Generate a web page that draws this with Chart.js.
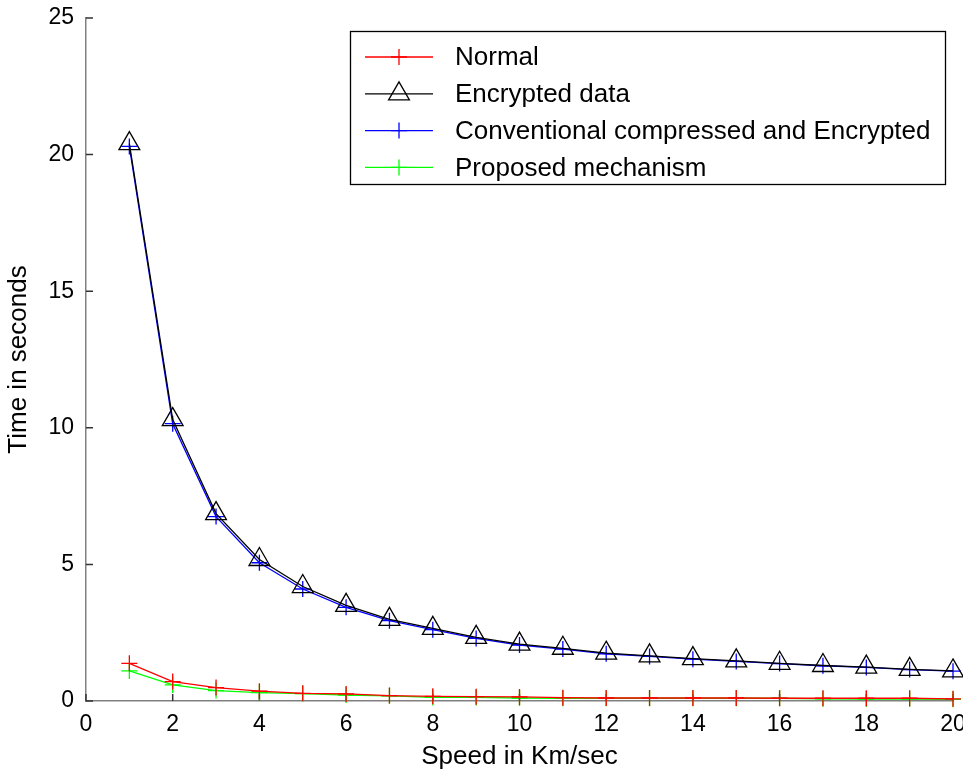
<!DOCTYPE html>
<html lang="en">
<head>
<meta charset="UTF-8">
<title>Time vs speed</title>
<script src="https://cdn.jsdelivr.net/npm/chart.js"></script>
<style>
    html, body { margin: 0; padding: 0; background: #fff; overflow: hidden; }
    #wrap { width: 990px; height: 774px; }
</style>
</head>
<body>
<div id="wrap"><canvas id="myChart" width="990" height="774"></canvas></div>

<script>
    // values
    const speeds = [1, 2, 3, 4, 5, 6, 7, 8, 9, 10, 11, 12, 13, 14, 15, 16, 17, 18, 19, 20];
    const normal = [1.38, 0.71, 0.49, 0.36, 0.28, 0.26, 0.2, 0.17, 0.16, 0.15, 0.12, 0.11, 0.11, 0.11, 0.11, 0.1, 0.1, 0.1, 0.1, 0.08];
    const encrypted = [20.4, 10.3, 6.86, 5.18, 4.19, 3.5, 2.99, 2.66, 2.33, 2.08, 1.93, 1.75, 1.65, 1.55, 1.47, 1.38, 1.3, 1.24, 1.16, 1.1];
    const conventional = [20.3, 10.15, 6.75, 5.06, 4.1, 3.43, 2.94, 2.61, 2.29, 2.05, 1.9, 1.73, 1.63, 1.53, 1.45, 1.37, 1.29, 1.23, 1.15, 1.09];
    const proposed = [1.1, 0.59, 0.38, 0.31, 0.27, 0.22, 0.19, 0.13, 0.13, 0.11, 0.1, 0.1, 0.1, 0.1, 0.1, 0.1, 0.08, 0.07, 0.07, 0.06];
    const xTicks = [0, 2, 4, 6, 8, 10, 12, 14, 16, 18, 20];
    const yTicks = [0, 5, 10, 15, 20, 25];

    const family = "'Liberation Sans', Arial, sans-serif";

    function pts(values) {
        return speeds.map((s, i) => ({ x: s, y: values[i] }));
    }

    function plusSeries(label, values, color) {
        return {
            label: label,
            data: pts(values),
            borderColor: color,
            backgroundColor: color,
            borderWidth: 1.3,
            pointStyle: 'cross',
            pointRadius: 8,
            pointBorderWidth: 1.3,
            pointBorderColor: color,
            pointBackgroundColor: color,
            tension: 0,
            clip: false
        };
    }

    // small inward tick marks like the original axes
    const innerTicks = {
        id: 'innerTicks',
        beforeDatasetsDraw(chart) {
            const ctx = chart.ctx;
            const xs = chart.scales.x, ys = chart.scales.y;
            const a = chart.chartArea;
            ctx.save();
            ctx.strokeStyle = '#333';
            ctx.lineWidth = 1.5;
            ctx.beginPath();
            xTicks.forEach(v => {
                const px = xs.getPixelForValue(v);
                ctx.moveTo(px, a.bottom);
                ctx.lineTo(px, a.bottom - 7);
            });
            yTicks.forEach(v => {
                const py = ys.getPixelForValue(v);
                ctx.moveTo(a.left, py);
                ctx.lineTo(a.left + 7, py);
            });
            ctx.stroke();
            ctx.restore();
        }
    };

    // boxed legend inside the plot, top right
    const legendBox = {
        id: 'legendBox',
        afterDraw(chart) {
            const ctx = chart.ctx;
            ctx.save();
            ctx.fillStyle = '#fff';
            ctx.fillRect(351, 32, 594, 152);
            ctx.strokeStyle = '#000';
            ctx.lineWidth = 1.3;
            ctx.strokeRect(350.5, 31.5, 595, 153);
            chart.data.datasets.forEach((ds, i) => {
                const y = 57 + i * 36.8;
                ctx.strokeStyle = ds.borderColor;
                ctx.lineWidth = 1.3;
                ctx.beginPath();
                ctx.moveTo(365, y);
                ctx.lineTo(433, y);
                ctx.stroke();
                ctx.fillStyle = ds.pointBackgroundColor;
                ctx.strokeStyle = ds.pointBorderColor;
                ctx.lineWidth = ds.pointBorderWidth;
                Chart.helpers.drawPoint(ctx, {
                    pointStyle: ds.pointStyle,
                    radius: ds.pointRadius,
                    borderWidth: ds.pointBorderWidth,
                    rotation: 0
                }, 399, y);
                ctx.fillStyle = '#000';
                ctx.font = '26px ' + family;
                ctx.textBaseline = 'middle';
                ctx.textAlign = 'left';
                ctx.fillText(ds.label, 455, y + 1);
            });
            ctx.restore();
        }
    };

    const ctx = document.getElementById('myChart').getContext('2d');
    const myChart = new Chart(ctx, {
        type: 'line',
        data: {
            datasets: [
                plusSeries('Normal', normal, '#ff0000'),
                {
                    label: 'Encrypted data',
                    data: pts(encrypted),
                    borderColor: '#000000',
                    backgroundColor: '#ffffff',
                    borderWidth: 1.3,
                    pointStyle: 'triangle',
                    pointRadius: 12,
                    pointBorderWidth: 1.3,
                    pointBorderColor: '#000000',
                    pointBackgroundColor: 'rgba(255,255,255,0)',
                    tension: 0,
                    clip: false
                },
                plusSeries('Conventional compressed and Encrypted', conventional, '#0000ff'),
                plusSeries('Proposed mechanism', proposed, '#00ff00')
            ]
        },
        options: {
            responsive: false,
            animation: false,
            layout: { padding: { top: 18, right: 37, left: 0, bottom: 0 } },
            plugins: {
                legend: { display: false },
                tooltip: { enabled: false }
            },
            scales: {
                x: {
                    type: 'linear',
                    min: 0,
                    max: 20,
                    ticks: { stepSize: 2, color: '#000', font: { size: 23, family: family }, padding: 10, maxRotation: 0 },
                    grid: { display: false, drawTicks: false },
                    border: { display: true, color: '#808080', width: 1.5 },
                    title: { display: true, text: 'Speed in Km/sec', color: '#000', font: { size: 26, family: family }, padding: { top: 0, bottom: 2 } },
                    afterFit(s) { s.height = 73; }
                },
                y: {
                    min: 0,
                    max: 25,
                    ticks: { stepSize: 5, color: '#000', font: { size: 23, family: family }, padding: 12 },
                    grid: { display: false, drawTicks: false },
                    border: { display: true, color: '#808080', width: 1.5 },
                    title: { display: true, text: 'Time in seconds', color: '#000', font: { size: 26, family: family }, padding: { top: 3, bottom: 0 } },
                    afterFit(s) {
                        s.width = 86;
                        s.paddingTop = 0;
                        s.paddingBottom = 0;
                    }
                }
            }
        },
        plugins: [innerTicks, legendBox]
    });
</script>
</body>
</html>
